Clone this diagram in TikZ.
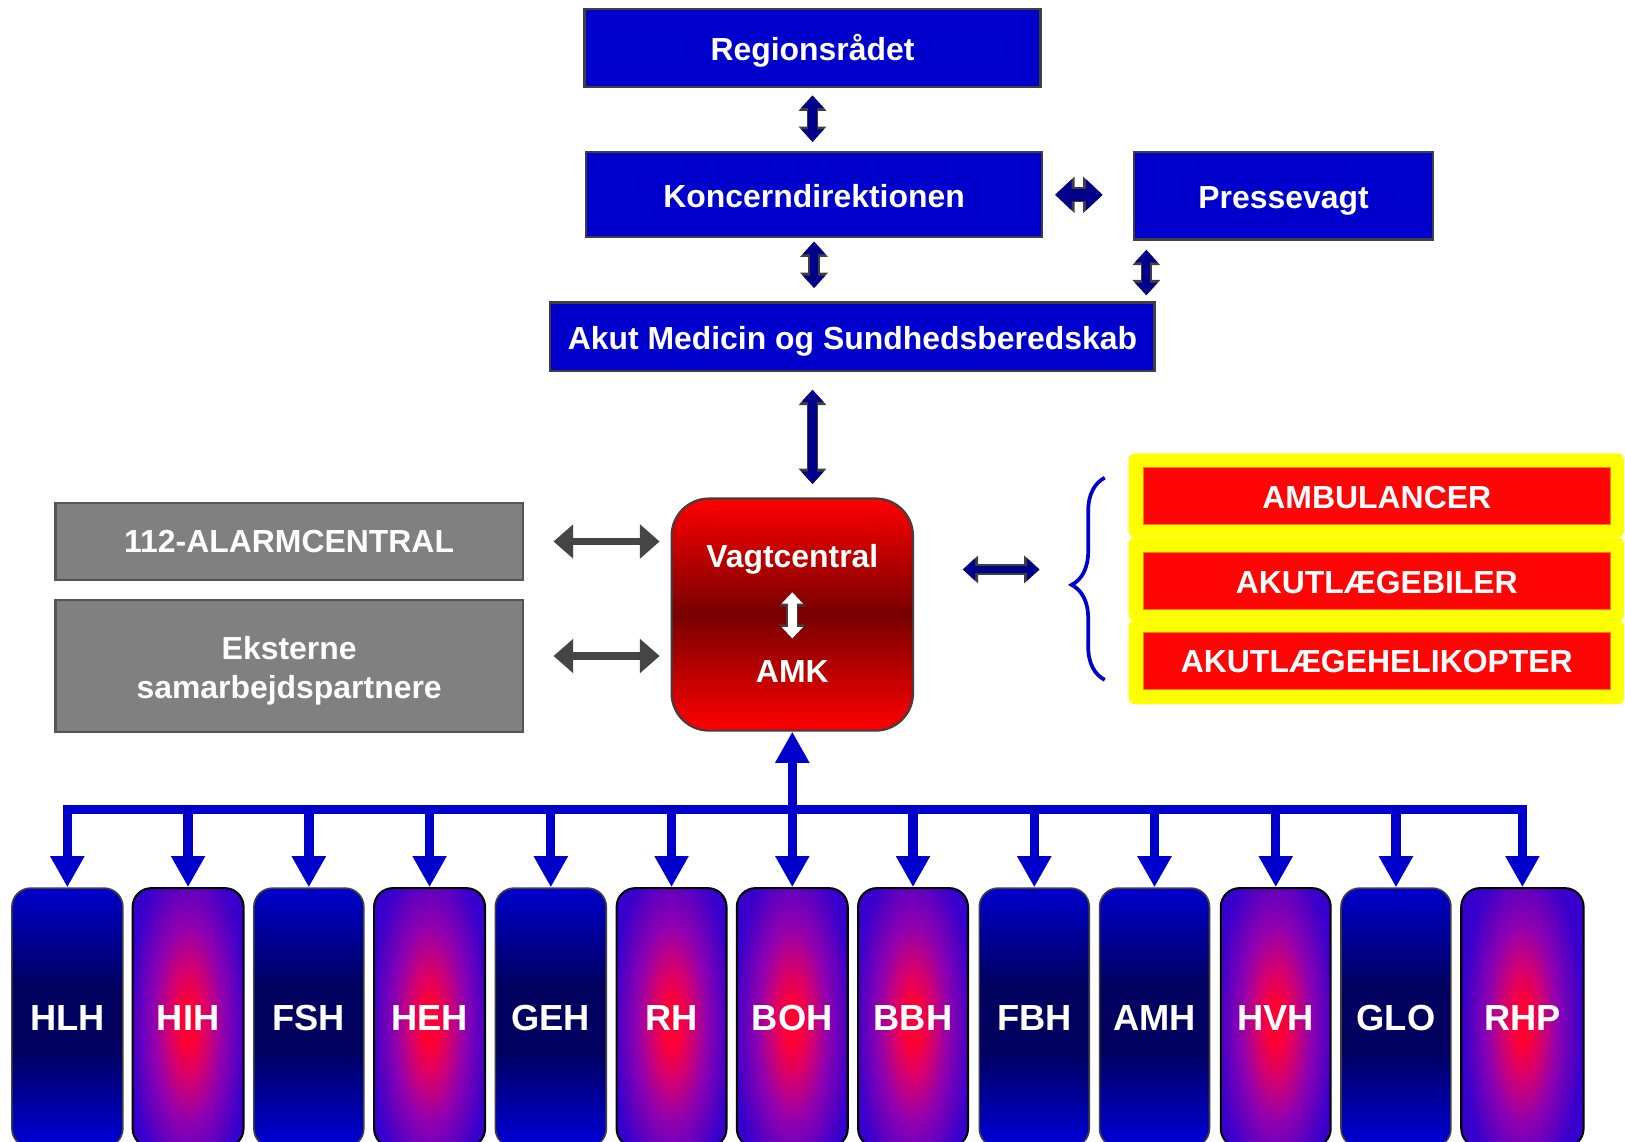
\documentclass[tikz,border=0pt]{standalone}
\usepackage{fontspec}
\setmainfont{Liberation Sans}
\usetikzlibrary{arrows.meta,decorations.pathreplacing}
\definecolor{boxblue}{HTML}{0000CC}
\definecolor{deepnavy}{HTML}{00005E}
\definecolor{arrownavy}{HTML}{00008A}
\definecolor{framegray}{HTML}{3F3F3F}
\definecolor{alarmgray}{HTML}{808080}
\definecolor{graybord}{HTML}{555555}
\definecolor{darkarrow}{HTML}{454545}
\definecolor{amkred}{HTML}{FF0000}
\definecolor{amkdark}{HTML}{780000}
\definecolor{glowred}{HTML}{FF0034}
\definecolor{glowrose}{HTML}{D8006A}
\definecolor{glowviolet}{HTML}{9000B0}
\definecolor{glowblue}{HTML}{3800CC}
\definecolor{unitred}{HTML}{FF0505}
\definecolor{unityellow}{HTML}{FFFF00}
\pgfdeclareradialshading{hospglow}{\pgfpoint{0bp}{0bp}}{color(0bp)=(glowred); color(3bp)=(glowred); color(7.5bp)=(glowrose); color(14bp)=(glowviolet); color(24bp)=(glowblue); color(50bp)=(glowblue)}
\pgfdeclareverticalshading{navyband}{100bp}{color(0bp)=(boxblue); color(27bp)=(boxblue); color(44bp)=(deepnavy); color(56bp)=(deepnavy); color(75bp)=(boxblue); color(100bp)=(boxblue)}

\begin{document}
\begin{tikzpicture}[x=0.5pt, y=-0.5pt,
	boxfont/.style={text=white, font=\fontsize{15.4}{19}\selectfont\bfseries},
	boxtext/.style={boxfont, text height=15pt, text depth=3.2pt},
	topbox/.style={boxtext, fill=boxblue, draw=framegray, line width=1.1pt, inner sep=0pt},
	graybox/.style={boxfont, fill=alarmgray, draw=graybord, line width=1.1pt, inner sep=0pt, align=center},
	amkbox/.style={top color=amkred, bottom color=amkred, middle color=amkdark, draw=framegray, line width=1pt, rounded corners=18pt, minimum width=116.5pt, minimum height=112pt},
	unitplate/.style={fill=unityellow, rounded corners=3pt, minimum width=239pt, minimum height=40.5pt},
	unitbox/.style={boxtext, fill=unitred, draw=orange, line width=0.5pt, minimum width=225.5pt, minimum height=27.5pt, inner sep=0pt},
	hosp/.style={text=white, font=\fontsize{17.5}{20}\selectfont\bfseries, rounded corners=9pt, minimum height=125pt, inner sep=0pt},
	navyhosp/.style={hosp, shading=navyband, draw=framegray, line width=0.8pt},
	glowhosp/.style={hosp, fill=glowblue, draw=black, line width=1pt,
		path picture={\shade[shading=hospglow] ([yshift=-3pt]path picture bounding box.center) ellipse [x radius=30pt, y radius=85pt];}},
	navylink/.style={draw=arrownavy, line width=4pt, {Triangle[width=10.5pt,length=6pt]}-{Triangle[width=10.5pt,length=6pt]},
		preaction={draw=framegray, line width=5.4pt, {Triangle[width=13pt,length=7.4pt]}-{Triangle[width=13pt,length=7.4pt]}}},
	fatlink/.style={draw=arrownavy, line width=6pt, {Triangle[width=14.5pt,length=8pt]}-{Triangle[width=14.5pt,length=8pt]},
		preaction={draw=framegray, line width=7.4pt, {Triangle[width=17pt,length=9.4pt]}-{Triangle[width=17pt,length=9.4pt]}}},
	graylink/.style={draw=darkarrow, line width=3.5pt, {Triangle[width=16pt,length=9.5pt]}-{Triangle[width=16pt,length=9.5pt]}},
	whitelink/.style={draw=white, line width=4.5pt, {Triangle[width=10pt,length=5.5pt]}-{Triangle[width=10pt,length=5.5pt]},
		preaction={draw=framegray, line width=5.8pt, {Triangle[width=12.4pt,length=6.8pt]}-{Triangle[width=12.4pt,length=6.8pt]}}},
	busline/.style={draw=boxblue, line width=4.5pt, {Triangle[width=15.5pt,length=15pt]}-{Triangle[width=15.5pt,length=15pt]}},
	busdrop/.style={draw=boxblue, line width=4.5pt, -{Triangle[width=15.5pt,length=15pt]}},
	unitbrace/.style={draw=boxblue, line width=1.8pt, decorate, decoration={brace, amplitude=16pt, aspect=0.47}}]
	\useasboundingbox (0,0) rectangle (1568,1101);

	\node (reg) at (784, 46.5)	[topbox, minimum width=220pt, minimum height=37.5pt]	{Regionsrådet};
	\node (konc) at (785.5, 188)	[topbox, minimum width=220pt, minimum height=41pt]	{Koncerndirektionen};
	\node (press) at (1238.5, 189)	[topbox, minimum width=144.5pt, minimum height=42pt]	{Pressevagt};
	\node (akut) at (822.5, 325)	[topbox, minimum width=291.5pt, minimum height=33pt]	{Akut Medicin og Sundhedsberedskab};

	\node (alarm) at (279, 522.5)	[graybox, minimum width=225.5pt, minimum height=37pt]	{112-ALARMCENTRAL};
	\node (ekst) at (279, 642.5)	[graybox, minimum width=225.5pt, minimum height=63.5pt]	{\rule{0pt}{16pt}Eksterne\\samarbejdspartnere};

	\node (vagt) at (764.5, 593)	[amkbox]	{};
	\node (vctext) at (764.5, 548)	[boxfont, anchor=base, inner sep=0pt]	{Vagtcentral};
	\node (amktext) at (764.5, 659)	[boxfont, anchor=base, inner sep=0pt]	{AMK};

	\node (ambplate) at (1328, 478)	[unitplate]	{};
	\node (bilplate) at (1328, 559)	[unitplate]	{};
	\node (heliplate) at (1328, 639)	[unitplate]	{};
	\node (amb) at (1328.5, 479)	[unitbox]	{AMBULANCER};
	\node (bil) at (1328.5, 560.5)	[unitbox]	{AKUTLÆGEBILER};
	\node (heli) at (1328.5, 637.5)	[unitbox]	{AKUTLÆGEHELIKOPTER};
	\coordinate (bracetip) at (1034, 565);
	\draw[unitbrace] (1066, 656) -- (1066, 461);

	\foreach \short/\xc/\kind/\w in {HLH/65/navyhosp/53.5pt, HIH/181.5/glowhosp/53.5pt, FSH/298/navyhosp/53pt, HEH/414.5/glowhosp/53.5pt, GEH/531.5/navyhosp/53.5pt, RH/648/glowhosp/53pt, BOH/764.5/glowhosp/53.5pt, BBH/881/glowhosp/53pt, FBH/998/navyhosp/53pt, AMH/1114/navyhosp/53pt, HVH/1231/glowhosp/53pt, GLO/1347/navyhosp/53pt, RHP/1469/glowhosp/59pt}
		\node (\short) at (\xc, 982)	[\kind, minimum width=\w]	{\short};
	\coordinate (bus) at (764.5, 781);

	\draw[navylink, shorten <=3.5pt, shorten >=4.5pt] (reg.south) -- (reg.south |- konc.north);
	\draw[fatlink, shorten <=5.75pt, shorten >=14.5pt] (konc.east) -- (konc.east -| press.west);
	\draw[navylink, shorten <=1.5pt, shorten >=6.5pt] (konc.south) -- (konc.south |- akut.north);
	\draw[navylink, shorten <=4.5pt, shorten >=3pt] ([xshift=-4.5pt]akut.north east |- press.south) -- ([xshift=-4.5pt]akut.north east);
	\draw[navylink, shorten <=8.5pt, shorten >=6.5pt] (reg.south |- akut.south) -- (reg.south |- vagt.north);
	\draw[graylink, shorten <=14.25pt, shorten >=5.25pt] (alarm.east) -- (alarm.east -| vagt.west);
	\draw[graylink, shorten <=14.25pt, shorten >=5.25pt] ([yshift=4.75pt]ekst.east) -- ([yshift=4.75pt]ekst.east -| vagt.west);
	\draw[whitelink, shorten <=8.3pt, shorten >=10.7pt] (vagt |- vctext.south) -- (vagt |- amktext.north);
	\draw[navylink, line width=3.5pt, shorten <=23.5pt, shorten >=15.5pt] ([yshift=21.75pt]vagt.east) -- ([yshift=21.75pt]vagt.east -| bracetip);

	\draw[busline] (HLH.north) -- (HLH |- bus) -- (RHP |- bus) -- (RHP.north);
	\foreach \short in {HIH,FSH,HEH,GEH,RH,BBH,FBH,AMH,HVH,GLO}
		\draw[busdrop] (\short |- bus) -- (\short.north);
	\draw[busline] (BOH.north) -- (vagt.south);
\end{tikzpicture}
\end{document}
